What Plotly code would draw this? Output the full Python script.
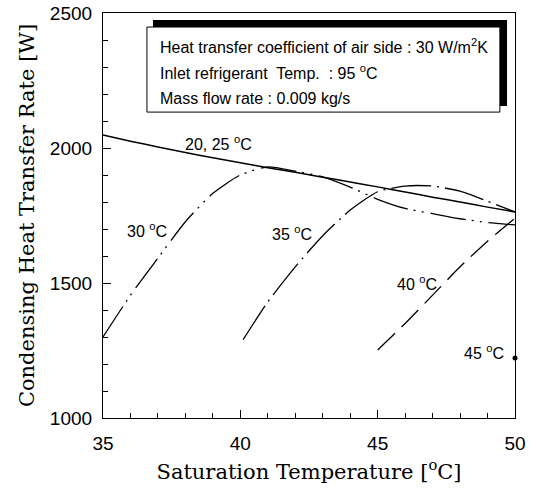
import plotly.graph_objects as go

# ---- data ----
temp_main = [35, 36, 37, 38, 39, 40, 41, 42, 43, 44, 45, 46, 47, 48, 49, 50]
q_20_25 = [2048, 2025, 2004, 1983, 1964, 1945, 1927, 1910, 1892, 1874, 1856, 1837, 1818, 1800, 1781, 1763]

temp_30 = [35, 36, 37, 38, 39, 40, 41, 42, 43, 44, 45, 46, 47, 48, 49, 50]
q_30 = [1300, 1455, 1592, 1727, 1832, 1900, 1930, 1914, 1893, 1855, 1810, 1776, 1757, 1738, 1724, 1715]

temp_35 = [40.1, 41, 42, 43, 44, 45, 46, 47, 48, 49, 50]
q_35 = [1290, 1430, 1560, 1675, 1770, 1838, 1859, 1859, 1840, 1803, 1763]

temp_40 = [45, 46, 47, 48, 49, 50]
q_40 = [1252, 1350, 1455, 1560, 1655, 1740]

temp_45 = [50]
q_45 = [1222]

x_tick_vals = [35, 40, 45, 50]
y_tick_vals = [1000, 1500, 2000, 2500]

series_labels = ["20, 25 <sup>o</sup>C", "30 <sup>o</sup>C", "35 <sup>o</sup>C", "40 <sup>o</sup>C", "45 <sup>o</sup>C"]
info_lines = [
    "Heat transfer coefficient of air side : 30 W/m<sup>2</sup>K",
    "Inlet refrigerant  Temp.  : 95 <sup>o</sup>C",
    "Mass flow rate : 0.009 kg/s",
]

SANS = "Arial, Liberation Sans, sans-serif"
SERIF = "DejaVu Serif, serif"

fig = go.Figure()
lw = 1.3
fig.add_trace(go.Scatter(x=temp_main, y=q_20_25, mode="lines", line=dict(color="black", width=1.5, shape="spline", smoothing=0.6)))
fig.add_trace(go.Scatter(x=temp_30, y=q_30, mode="lines",
                         line=dict(color="black", width=lw, shape="spline", smoothing=0.6,
                                   dash="36px,6px,2px,6px,2px,7px")))
fig.add_trace(go.Scatter(x=temp_35, y=q_35, mode="lines",
                         line=dict(color="black", width=lw, shape="spline", smoothing=0.6,
                                   dash="40px,6px,2px,6px")))
fig.add_trace(go.Scatter(x=temp_40, y=q_40, mode="lines",
                         line=dict(color="black", width=lw, shape="spline", smoothing=0.6,
                                   dash="24px,9px")))
fig.add_trace(go.Scatter(x=temp_45, y=q_45, mode="markers", cliponaxis=False,
                         marker=dict(color="black", size=5)))

# info box: shadow + white box
fig.add_shape(type="rect", xref="x", yref="y", x0=36.82, x1=49.71, y0=2156, y1=2474,
              fillcolor="black", line=dict(width=0), layer="above")
fig.add_shape(type="rect", xref="x", yref="y", x0=36.60, x1=49.45, y0=2133, y1=2448,
              fillcolor="white", line=dict(color="black", width=1), layer="above")

info_y = [2378, 2281, 2185]
for txt, yy in zip(info_lines, info_y):
    fig.add_annotation(x=37.0, y=yy, xref="x", yref="y", text=txt, showarrow=False,
                       xanchor="left", yanchor="middle", font=dict(family=SANS, size=16, color="black"))

label_pos = [(39.19, 2018), (36.6, 1696), (41.88, 1685), (46.43, 1500), (48.87, 1244)]
for txt, (xx, yy) in zip(series_labels, label_pos):
    fig.add_annotation(x=xx, y=yy, xref="x", yref="y", text=txt, showarrow=False,
                       xanchor="center", yanchor="middle", font=dict(family=SANS, size=16, color="black"))

fig.update_layout(
    width=537, height=496,
    margin=dict(l=103, r=22, t=13, b=78, autoexpand=False),
    paper_bgcolor="white", plot_bgcolor="white",
    showlegend=False,
    font=dict(family=SANS, size=19, color="black"),
)
fig.update_xaxes(
    range=[35, 50], tickvals=x_tick_vals, ticktext=[str(v) for v in x_tick_vals],
    automargin=False,
    showgrid=False, zeroline=False, showline=True, linecolor="black", linewidth=1.2, mirror=True,
    ticks="inside", ticklen=8, tickcolor="black", tickwidth=1.2, ticklabelstandoff=8,
    minor=dict(dtick=1, ticks="inside", ticklen=5, tickcolor="black", tickwidth=1, showgrid=False),
    tickfont=dict(family=SANS, size=19),
    title=dict(text="Saturation Temperature [<sup>o</sup>C]", font=dict(family=SERIF, size=21), standoff=11),
)
fig.update_yaxes(
    range=[1000, 2500], tickvals=y_tick_vals, ticktext=[str(v) for v in y_tick_vals],
    automargin=False,
    showgrid=False, zeroline=False, showline=True, linecolor="black", linewidth=1.2, mirror=True,
    ticks="inside", ticklen=8, tickcolor="black", tickwidth=1.2, ticklabelstandoff=6,
    minor=dict(dtick=100, ticks="inside", ticklen=5, tickcolor="black", tickwidth=1, showgrid=False),
    tickfont=dict(family=SANS, size=19),
    title=dict(text="Condensing Heat Transfer Rate [W]", font=dict(family=SERIF, size=21), standoff=9),
)

fig.write_html("out.html")
